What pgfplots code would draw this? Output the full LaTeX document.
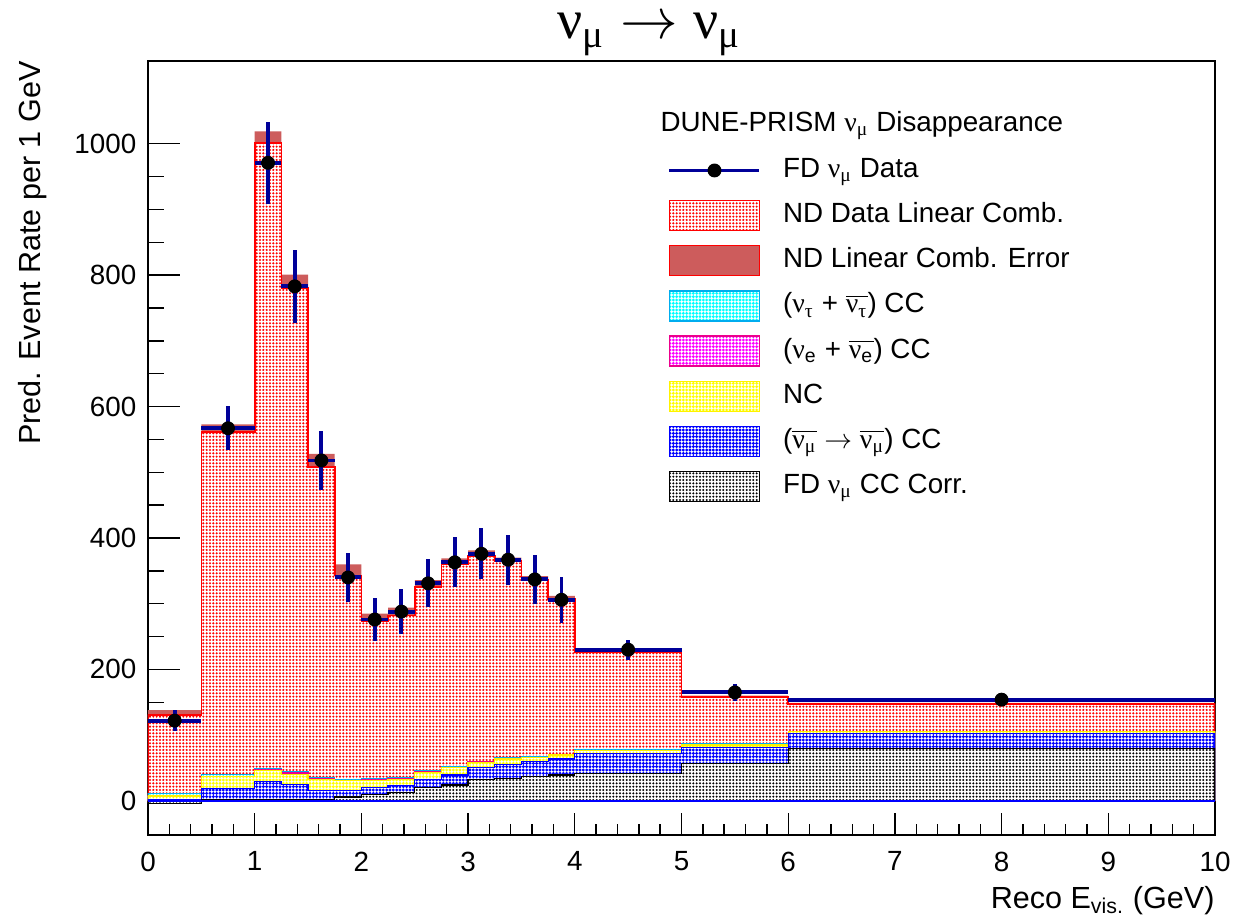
\documentclass[border=0pt]{standalone}
\usepackage{fontspec}
\setmainfont{Liberation Sans}
\newfontfamily\sg{Liberation Serif}
\usepackage{pgfplots}
\pgfplotsset{compat=1.18}
\usepackage{pgfplotstable}
\usepgfplotslibrary{fillbetween}
\usetikzlibrary{patterns.meta}
\definecolor{indianred}{RGB}{205,92,92}
\definecolor{dblue}{RGB}{0,0,153}
\newcommand{\gnu}{{\sg ν}}
\newcommand{\gnm}{{\sg ν}\textsubscript{\sg μ}}
\newcommand{\ob}[1]{$\overline{\mbox{#1}}$}

\pgfplotstableread{
xl pred lo hi gray blu nc nue nutau
0 131 124 138 -4 2 7.5 8 11.5
0.5 561 549 573 2 19 37 37.5 40
1 1001 983 1019 2 29 45.8 47.3 48.9
1.25 780 759 801 2 24.4 39.7 42.2 43.8
1.5 508 488 528 2.5 15.8 33 33.5 34.6
1.75 343 326 360 6 16 31 31.5 33
2 273 261 285 10 20.5 31 33 33.5
2.25 282 270 294 12.7 22.9 33 33.5 34.6
2.5 325 314 336 20.4 33 43.3 44 45.3
2.75 360 351 369 23.9 39.2 50.4 50.9 51.4
3 373 365 381 33 50.9 58.5 59 60
3.25 365 360 370 34.1 55 63.6 64 65.1
3.5 337 332 342 37.2 60 65.6 66.2 67.7
3.75 307 302 312 39.2 63.6 69.7 70 70.7
4 227 224 230 42 71.8 76.3 77 78.2
5 158 156 160 56.5 81.5 85 85.5 87
6 147 145 149 80 103 105 105.3 105.5
10 147 145 149 80 103 105 105.3 105.5
}\hist

\pgfplotstableread{
x y ex ey
0.25 122 0.25 15.6
0.75 567 0.25 33.7
1.125 971 0.125 62.3
1.375 783 0.125 56.0
1.625 518 0.125 45.5
1.875 340 0.125 36.9
2.125 276 0.125 33.2
2.375 288 0.125 33.9
2.625 331 0.125 36.4
2.875 363 0.125 38.1
3.125 376 0.125 38.8
3.375 367 0.125 38.3
3.625 337 0.125 36.7
3.875 306 0.125 35.0
4.5 230 0.5 15.2
5.5 165 0.5 12.8
8 154 2 6.2
}\data

\pgfplotsset{
  hst/.style 2 args={preaction={fill=white}, pattern={Dots[distance=1.2pt,radius=#2]}, pattern color=#1, draw=#1, line width=0.45pt},
  boxleg/.style={legend image code/.code={\draw[##1] (0pt,-5.4pt) rectangle (32.4pt,5.4pt);}},
}

\begin{document}
\begin{tikzpicture}
\begin{axis}[
  at={(0pt,0pt)}, anchor=south west,
  scale only axis, width=384.12pt, height=278.64pt,
  xmin=0, xmax=10, ymin=-52, ymax=1126,
  enlargelimits=false,
  axis line style={line width=0.55pt},
  xtick={0,1,...,10}, minor x tick num=4,
  ytick={0,200,...,1000}, minor y tick num=3,
  tick align=inside, xtick pos=left, ytick pos=left,
  major x tick style={/pgfplots/major tick length=8pt, line width=0.5pt, black},
  minor x tick style={/pgfplots/minor tick length=4pt, line width=0.5pt, black},
  major y tick style={/pgfplots/major tick length=11.5pt, line width=0.5pt, black},
  minor y tick style={/pgfplots/minor tick length=5.7pt, line width=0.5pt, black},
  /pgf/number format/assume math mode=true,
  /pgf/number format/1000 sep={},
  ticklabel style={font=\fontsize{10}{12}\selectfont},
  xticklabel style={yshift=-2.5pt},
  yticklabel style={xshift=-0.7pt},
  xlabel={Reco E\textsubscript{vis.} (GeV)},
  xlabel style={at={(axis description cs:1,0)}, anchor=base east, inner sep=0pt, yshift=-26.3pt, font=\fontsize{11}{13}\selectfont},
  ylabel={Pred. Event Rate per 1 GeV},
  ylabel style={at={(axis description cs:-0.094,1)}, anchor=south east, inner sep=0pt, font=\fontsize{11}{13}\selectfont},
  legend cell align=left,
  legend style={draw=none, fill=none, at={(axis description cs:0.4864,0.879)}, anchor=north west,
    inner sep=0pt, row sep=5pt, column sep=7.3pt, font=\fontsize{10}{12}\selectfont,
    nodes={inner sep=0.5pt, text height=7.5pt, text depth=2.5pt}},
]
% legend entries
\addlegendimage{legend image code/.code={\draw[dblue, line width=1.4pt] (0pt,0pt) -- (32.4pt,0pt); \fill[black] (16.2pt,0pt) circle (2.3pt);}}
\addlegendentry{FD \gnm{} Data}
\addlegendimage{boxleg, hst={red}{0.42pt}}
\addlegendentry{ND Data Linear Comb.}
\addlegendimage{boxleg, fill=indianred, draw=red, line width=0.6pt}
\addlegendentry{ND Linear Comb. Error}
\addlegendimage{boxleg, hst={cyan}{0.56pt}}
\addlegendentry{(\gnu\textsubscript{\sg τ} + \ob{\gnu\textsubscript{\sg τ}}) CC}
\addlegendimage{boxleg, hst={magenta}{0.56pt}}
\addlegendentry{(\gnu\textsubscript{e} + \ob{\gnu\textsubscript{e}}) CC}
\addlegendimage{boxleg, hst={yellow}{0.56pt}}
\addlegendentry{NC}
\addlegendimage{boxleg, hst={blue}{0.58pt}}
\addlegendentry{(\ob{\gnm} $\rightarrow$ \ob{\gnm}) CC}
\addlegendimage{boxleg, hst={black}{0.4pt}}
\addlegendentry{FD \gnm{} CC Corr.}

% ND linear combination
\addplot[const plot, hst={red}{0.42pt}, line width=0.6pt, forget plot] table[x=xl, y=pred]{\hist} \closedcycle;
% error band
\addplot[const plot, draw=none, name path=hi, forget plot] table[x=xl, y=hi]{\hist};
\addplot[const plot, draw=none, name path=lo, forget plot] table[x=xl, y=lo]{\hist};
\addplot[fill=indianred, draw=none, forget plot] fill between[of=hi and lo];
% stacked backgrounds (cumulative)
\addplot[const plot, hst={cyan}{0.56pt}, forget plot] table[x=xl, y=nutau]{\hist} \closedcycle;
\addplot[const plot, hst={magenta}{0.56pt}, forget plot] table[x=xl, y=nue]{\hist} \closedcycle;
\addplot[const plot, hst={yellow}{0.56pt}, forget plot] table[x=xl, y=nc]{\hist} \closedcycle;
\addplot[const plot, hst={blue}{0.58pt}, forget plot] table[x=xl, y=blu]{\hist} \closedcycle;
\addplot[const plot, hst={black}{0.4pt}, forget plot] table[x=xl, y=gray]{\hist} \closedcycle;
\addplot[blue, line width=0.7pt, forget plot] coordinates {(0,0) (10,0)};
% data
\addplot[only marks, mark=*, mark size=2.3pt, mark options={fill=black, draw=black}, forget plot,
  error bars/.cd, x dir=both, x explicit, y dir=both, y explicit,
  error bar style={line width=1.4pt, color=dblue}, error mark=none]
  table[x=x, y=y, x error=ex, y error=ey]{\data};

\node[anchor=west, inner sep=0pt, font=\fontsize{10}{12}\selectfont] at (axis description cs:0.4799,0.917) {DUNE-PRISM \gnm{} Disappearance};
\end{axis}
\node[anchor=base, inner sep=0pt, font=\fontsize{20}{24}\selectfont] at (180.35pt,286.56pt) {\gnm{} $\rightarrow$ \gnm};
\pgfresetboundingbox
\path[use as bounding box] (-53.28pt,-30.6pt) rectangle (396.72pt,300.6pt);
\end{tikzpicture}
\end{document}
